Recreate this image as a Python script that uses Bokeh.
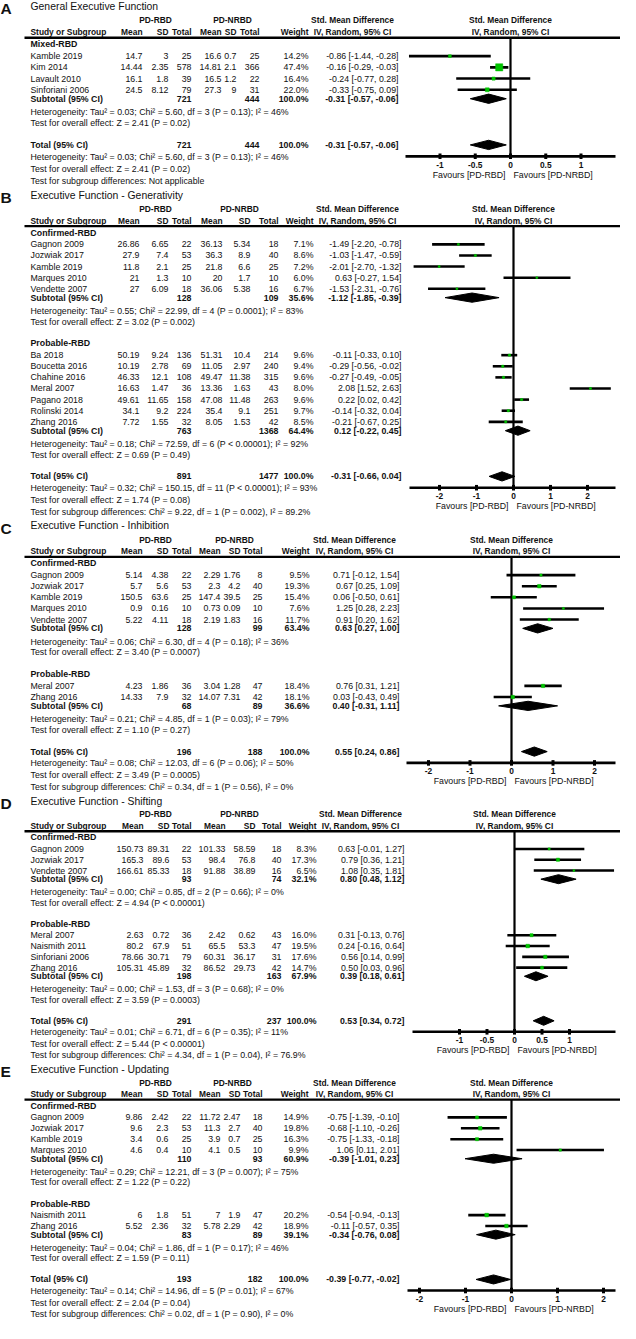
from bokeh.plotting import figure
from bokeh.models import Range1d, ColumnDataSource
from bokeh.core.properties import value
from bokeh.embed import file_html
from bokeh.resources import INLINE

# ------------------------------------------------------------------ DATA
PANEL_LETTERS = ["A", "B", "C", "D", "E"]
PANEL_TITLES = ["General Executive Function", "Executive Function - Generativity",
                "Executive Function - Inhibition", "Executive Function - Shifting",
                "Executive Function - Updating"]

# Panel A
A_GROUPS = ["Mixed-RBD"]
A_STUDY = ["Kamble 2019", "Kim 2014", "Lavault 2010", "Sinforiani 2006"]
A_GRP = [0, 0, 0, 0]
A_M1 = [14.7, 14.44, 16.1, 24.5]
A_SD1 = [3, 2.35, 1.8, 8.12]
A_N1 = [25, 578, 39, 79]
A_M2 = [16.6, 14.81, 16.5, 27.3]
A_SD2 = [0.7, 2.1, 1.2, 9]
A_N2 = [25, 366, 22, 31]
A_W = [14.2, 47.4, 16.4, 22.0]
A_SMD = [-0.86, -0.16, -0.24, -0.33]
A_LO = [-1.44, -0.29, -0.77, -0.75]
A_HI = [-0.28, -0.03, 0.28, 0.09]
A_SUB_N1 = [721]
A_SUB_N2 = [444]
A_SUB_W = [100.0]
A_SUB_SMD = [-0.31]
A_SUB_LO = [-0.57]
A_SUB_HI = [-0.06]
A_SUB_HET = ["Heterogeneity: Tau² = 0.03; Chi² = 5.60, df = 3 (P = 0.13); I² = 46%"]
A_SUB_Z = ["Test for overall effect: Z = 2.41 (P = 0.02)"]
A_TOTAL = [721, 444, 100.0, -0.31, -0.57, -0.06]
A_TOT_HET = "Heterogeneity: Tau² = 0.03; Chi² = 5.60, df = 3 (P = 0.13); I² = 46%"
A_TOT_Z = "Test for overall effect: Z = 2.41 (P = 0.02)"
A_SUBDIFF = "Test for subgroup differences: Not applicable"
A_TICKS = [-1, -0.5, 0, 0.5, 1]

# Panel B
B_GROUPS = ["Confirmed-RBD", "Probable-RBD"]
B_STUDY = ["Gagnon 2009", "Jozwiak 2017", "Kamble 2019", "Marques 2010", "Vendette 2007",
           "Ba 2018", "Boucetta 2016", "Chahine 2016", "Meral 2007", "Pagano 2018",
           "Rolinski 2014", "Zhang 2016"]
B_GRP = [0, 0, 0, 0, 0, 1, 1, 1, 1, 1, 1, 1]
B_M1 = [26.86, 27.9, 11.8, 21, 27, 50.19, 10.19, 46.33, 16.63, 49.61, 34.1, 7.72]
B_SD1 = [6.65, 7.4, 2.1, 1.3, 6.09, 9.24, 2.78, 12.1, 1.47, 11.65, 9.2, 1.55]
B_N1 = [22, 53, 25, 10, 18, 136, 69, 108, 36, 158, 224, 32]
B_M2 = [36.13, 36.3, 21.8, 20, 36.06, 51.31, 11.05, 49.47, 13.36, 47.08, 35.4, 8.05]
B_SD2 = [5.34, 8.9, 6.6, 1.7, 5.38, 10.4, 2.97, 11.38, 1.63, 11.48, 9.1, 1.53]
B_N2 = [18, 40, 25, 10, 16, 214, 240, 315, 43, 263, 251, 42]
B_W = [7.1, 8.6, 7.2, 6.0, 6.7, 9.6, 9.4, 9.6, 8.0, 9.6, 9.7, 8.5]
B_SMD = [-1.49, -1.03, -2.01, 0.63, -1.53, -0.11, -0.29, -0.27, 2.08, 0.22, -0.14, -0.21]
B_LO = [-2.20, -1.47, -2.70, -0.27, -2.31, -0.33, -0.56, -0.49, 1.52, 0.02, -0.32, -0.67]
B_HI = [-0.78, -0.59, -1.32, 1.54, -0.76, 0.10, -0.02, -0.05, 2.63, 0.42, 0.04, 0.25]
B_SUB_N1 = [128, 763]
B_SUB_N2 = [109, 1368]
B_SUB_W = [35.6, 64.4]
B_SUB_SMD = [-1.12, 0.12]
B_SUB_LO = [-1.85, -0.22]
B_SUB_HI = [-0.39, 0.45]
B_SUB_HET = ["Heterogeneity: Tau² = 0.55; Chi² = 22.99, df = 4 (P = 0.0001); I² = 83%",
             "Heterogeneity: Tau² = 0.18; Chi² = 72.59, df = 6 (P < 0.00001); I² = 92%"]
B_SUB_Z = ["Test for overall effect: Z = 3.02 (P = 0.002)",
           "Test for overall effect: Z = 0.69 (P = 0.49)"]
B_TOTAL = [891, 1477, 100.0, -0.31, -0.66, 0.04]
B_TOT_HET = "Heterogeneity: Tau² = 0.32; Chi² = 150.15, df = 11 (P < 0.00001); I² = 93%"
B_TOT_Z = "Test for overall effect: Z = 1.74 (P = 0.08)"
B_SUBDIFF = "Test for subgroup differences: Chi² = 9.22, df = 1 (P = 0.002), I² = 89.2%"
B_TICKS = [-2, -1, 0, 1, 2]

# Panel C
C_GROUPS = ["Confirmed-RBD", "Probable-RBD"]
C_STUDY = ["Gagnon 2009", "Jozwiak 2017", "Kamble 2019", "Marques 2010", "Vendette 2007",
           "Meral 2007", "Zhang 2016"]
C_GRP = [0, 0, 0, 0, 0, 1, 1]
C_M1 = [5.14, 5.7, 150.5, 0.9, 5.22, 4.23, 14.33]
C_SD1 = [4.38, 5.6, 63.6, 0.16, 4.11, 1.86, 7.9]
C_N1 = [22, 53, 25, 10, 18, 36, 32]
C_M2 = [2.29, 2.3, 147.4, 0.73, 2.19, 3.04, 14.07]
C_SD2 = [1.76, 4.2, 39.5, 0.09, 1.83, 1.28, 7.31]
C_N2 = [8, 40, 25, 10, 16, 47, 42]
C_W = [9.5, 19.3, 15.4, 7.6, 11.7, 18.4, 18.1]
C_SMD = [0.71, 0.67, 0.06, 1.25, 0.91, 0.76, 0.03]
C_LO = [-0.12, 0.25, -0.50, 0.28, 0.20, 0.31, -0.43]
C_HI = [1.54, 1.09, 0.61, 2.23, 1.62, 1.21, 0.49]
C_SUB_N1 = [128, 68]
C_SUB_N2 = [99, 89]
C_SUB_W = [63.4, 36.6]
C_SUB_SMD = [0.63, 0.40]
C_SUB_LO = [0.27, -0.31]
C_SUB_HI = [1.00, 1.11]
C_SUB_HET = ["Heterogeneity: Tau² = 0.06; Chi² = 6.30, df = 4 (P = 0.18); I² = 36%",
             "Heterogeneity: Tau² = 0.21; Chi² = 4.85, df = 1 (P = 0.03); I² = 79%"]
C_SUB_Z = ["Test for overall effect: Z = 3.40 (P = 0.0007)",
           "Test for overall effect: Z = 1.10 (P = 0.27)"]
C_TOTAL = [196, 188, 100.0, 0.55, 0.24, 0.86]
C_TOT_HET = "Heterogeneity: Tau² = 0.08; Chi² = 12.03, df = 6 (P = 0.06); I² = 50%"
C_TOT_Z = "Test for overall effect: Z = 3.49 (P = 0.0005)"
C_SUBDIFF = "Test for subgroup differences: Chi² = 0.34, df = 1 (P = 0.56), I² = 0%"
C_TICKS = [-2, -1, 0, 1, 2]

# Panel D
D_GROUPS = ["Confirmed-RBD", "Probable-RBD"]
D_STUDY = ["Gagnon 2009", "Jozwiak 2017", "Vendette 2007", "Meral 2007", "Naismith 2011",
           "Sinforiani 2006", "Zhang 2016"]
D_GRP = [0, 0, 0, 1, 1, 1, 1]
D_M1 = [150.73, 165.3, 166.61, 2.63, 80.2, 78.66, 105.31]
D_SD1 = [89.31, 89.6, 85.33, 0.72, 67.9, 30.71, 45.89]
D_N1 = [22, 53, 18, 36, 51, 79, 32]
D_M2 = [101.33, 98.4, 91.88, 2.42, 65.5, 60.31, 86.52]
D_SD2 = [58.59, 76.8, 38.89, 0.62, 53.3, 36.17, 29.73]
D_N2 = [18, 40, 16, 43, 47, 31, 42]
D_W = [8.3, 17.3, 6.5, 16.0, 19.5, 17.6, 14.7]
D_SMD = [0.63, 0.79, 1.08, 0.31, 0.24, 0.56, 0.50]
D_LO = [-0.01, 0.36, 0.35, -0.13, -0.16, 0.14, 0.03]
D_HI = [1.27, 1.21, 1.81, 0.76, 0.64, 0.99, 0.96]
D_SUB_N1 = [93, 198]
D_SUB_N2 = [74, 163]
D_SUB_W = [32.1, 67.9]
D_SUB_SMD = [0.80, 0.39]
D_SUB_LO = [0.48, 0.18]
D_SUB_HI = [1.12, 0.61]
D_SUB_HET = ["Heterogeneity: Tau² = 0.00; Chi² = 0.85, df = 2 (P = 0.66); I² = 0%",
             "Heterogeneity: Tau² = 0.00; Chi² = 1.53, df = 3 (P = 0.68); I² = 0%"]
D_SUB_Z = ["Test for overall effect: Z = 4.94 (P < 0.00001)",
           "Test for overall effect: Z = 3.59 (P = 0.0003)"]
D_TOTAL = [291, 237, 100.0, 0.53, 0.34, 0.72]
D_TOT_HET = "Heterogeneity: Tau² = 0.01; Chi² = 6.71, df = 6 (P = 0.35); I² = 11%"
D_TOT_Z = "Test for overall effect: Z = 5.44 (P < 0.00001)"
D_SUBDIFF = "Test for subgroup differences: Chi² = 4.34, df = 1 (P = 0.04), I² = 76.9%"
D_TICKS = [-1, -0.5, 0, 0.5, 1]

# Panel E
E_GROUPS = ["Confirmed-RBD", "Probable-RBD"]
E_STUDY = ["Gagnon 2009", "Jozwiak 2017", "Kamble 2019", "Marques 2010", "Naismith 2011",
           "Zhang 2016"]
E_GRP = [0, 0, 0, 0, 1, 1]
E_M1 = [9.86, 9.6, 3.4, 4.6, 6, 5.52]
E_SD1 = [2.42, 2.3, 0.6, 0.4, 1.8, 2.36]
E_N1 = [22, 53, 25, 10, 51, 32]
E_M2 = [11.72, 11.3, 3.9, 4.1, 7, 5.78]
E_SD2 = [2.47, 2.7, 0.7, 0.5, 1.9, 2.29]
E_N2 = [18, 40, 25, 10, 47, 42]
E_W = [14.9, 19.8, 16.3, 9.9, 20.2, 18.9]
E_SMD = [-0.75, -0.68, -0.75, 1.06, -0.54, -0.11]
E_LO = [-1.39, -1.10, -1.33, 0.11, -0.94, -0.57]
E_HI = [-0.10, -0.26, -0.18, 2.01, -0.13, 0.35]
E_SUB_N1 = [110, 83]
E_SUB_N2 = [93, 89]
E_SUB_W = [60.9, 39.1]
E_SUB_SMD = [-0.39, -0.34]
E_SUB_LO = [-1.01, -0.76]
E_SUB_HI = [0.23, 0.08]
E_SUB_HET = ["Heterogeneity: Tau² = 0.29; Chi² = 12.21, df = 3 (P = 0.007); I² = 75%",
             "Heterogeneity: Tau² = 0.04; Chi² = 1.86, df = 1 (P = 0.17); I² = 46%"]
E_SUB_Z = ["Test for overall effect: Z = 1.22 (P = 0.22)",
           "Test for overall effect: Z = 1.59 (P = 0.11)"]
E_TOTAL = [193, 182, 100.0, -0.39, -0.77, -0.02]
E_TOT_HET = "Heterogeneity: Tau² = 0.14; Chi² = 14.96, df = 5 (P = 0.01); I² = 67%"
E_TOT_Z = "Test for overall effect: Z = 2.04 (P = 0.04)"
E_SUBDIFF = "Test for subgroup differences: Chi² = 0.02, df = 1 (P = 0.90), I² = 0%"
E_TICKS = [-2, -1, 0, 1, 2]

HEAD_COLS = ["Mean", "SD", "Total", "Mean", "SD", "Total", "Weight"]

# ------------------------------------------------------------------ assemble panels
def panel(prefix):
    g = globals()
    return {k: g[prefix + "_" + k] for k in
            ["GROUPS", "STUDY", "GRP", "M1", "SD1", "N1", "M2", "SD2", "N2", "W", "SMD", "LO", "HI",
             "SUB_N1", "SUB_N2", "SUB_W", "SUB_SMD", "SUB_LO", "SUB_HI", "SUB_HET", "SUB_Z",
             "TOTAL", "TOT_HET", "TOT_Z", "SUBDIFF", "TICKS"]}

PANELS = [panel(k) for k in PANEL_LETTERS]

# ------------------------------------------------------------------ layout / style
W_PX, H_PX = 620, 1323
X0 = 8
Y_TOP, Y_BOT = 1, 1333
LAYOUT = [
    dict(y0=7, s=1.0, cols=(150, 176, 199, 229, 244, 267, 316), pd=(163, 240), smd_c=360, smd_r=406, zero=518, ppu=70.5, ax=(413, 623)),
    dict(y0=197, s=0.99, cols=(147, 176, 199, 230, 258, 286, 321), pd=(163, 247), smd_c=365, smd_r=409, zero=521, ppu=37.0, ax=(417, 623)),
    dict(y0=530, s=0.99, cols=(150, 176, 199, 228, 248, 270, 317), pd=(163, 242), smd_c=362, smd_r=407, zero=519, ppu=41.5, ax=(414, 623)),
    dict(y0=807, s=0.964, cols=(151, 177, 199, 233, 263, 289, 324), pd=(163, 247), smd_c=368, smd_r=412, zero=522, ppu=55.0, ax=(420, 623)),
    dict(y0=1077, s=0.97, cols=(150, 176, 199, 228, 248, 270, 316), pd=(163, 240), smd_c=362, smd_r=407, zero=519, ppu=46.0, ax=(415, 623)),
]
FONT = "Liberation Sans"
FS = "8.8px"
FH = "8.4px"
TXT = "#111111"
GREEN = "#00c400"
LEFT = 38

p = figure(width=W_PX, height=H_PX, x_range=Range1d(X0, X0 + W_PX), y_range=Range1d(Y_BOT, Y_TOP),
           output_backend="svg", toolbar_location=None, min_border=0)
p.axis.visible = False
p.grid.visible = False
p.outline_line_color = None
p.background_fill_color = "white"
p.border_fill_color = "white"

for i, L in enumerate(LAYOUT):
    p.extra_x_ranges["P%d" % i] = Range1d((X0 - L["zero"]) / L["ppu"], (X0 + W_PX - L["zero"]) / L["ppu"])

texts = {}


def T(x, y, s, align="left", bold=False, size=FS, rng="default", dx=0):
    key = (rng, align, bold, size, dx)
    d = texts.setdefault(key, dict(x=[], y=[], t=[]))
    d["x"].append(x)
    d["y"].append(y)
    d["t"].append(s)


def fmt(v):
    return f"{v:g}"


def ci(s, lo, hi):
    return f"{s:.2f} [{lo:.2f}, {hi:.2f}]"


segs = {}
pix_segs = dict(x0=[], y0=[], x1=[], y1=[], w=[])
squares = {}
diamonds = {}

for i, (P, L) in enumerate(zip(PANELS, LAYOUT)):
    rng = "P%d" % i
    s = L["s"]
    y0 = L["y0"]
    c = L["cols"]
    seg = segs.setdefault(rng, dict(x0=[], y0=[], x1=[], y1=[], w=[]))
    sq = squares.setdefault(rng, dict(x=[], y=[], size=[]))
    dm = diamonds.setdefault(rng, dict(xs=[], ys=[]))

    T(8, y0 + 2.5, PANEL_LETTERS[i], bold=True, size="15.5px")
    T(LEFT, y0, PANEL_TITLES[i], size="10.4px")
    yp = y0 + 14 * s
    T(L["pd"][0], yp, "PD-RBD", "center", True, FH)
    T(L["pd"][1], yp, "PD-NRBD", "center", True, FH)
    T(L["smd_c"], yp, "Std. Mean Difference", "center", True, FH)
    T(L["zero"], yp, "Std. Mean Difference", "center", True, FH)
    yh = y0 + 26 * s
    T(LEFT, yh, "Study or Subgroup", bold=True, size=FH)
    for cx, h in zip(c, HEAD_COLS):
        T(cx, yh, h, "right", True, FH)
    T(L["smd_c"], yh, "IV, Random, 95% CI", "center", True, FH)
    T(L["zero"], yh, "IV, Random, 95% CI", "center", True, FH)
    yl = y0 + 31.5 * s
    pix_segs["x0"].append(32); pix_segs["x1"].append(630)
    pix_segs["y0"].append(yl); pix_segs["y1"].append(yl); pix_segs["w"].append(2.4)

    y = y0 + 38 * s
    for g, gname in enumerate(P["GROUPS"]):
        T(LEFT, y, gname, bold=True)
        idx = [k for k, gg in enumerate(P["GRP"]) if gg == g]
        ys = y + 12 * s
        for n, k in enumerate(idx):
            yy = ys + 11.3 * s * n
            T(LEFT, yy, P["STUDY"][k])
            for cx, v in zip(c, [P["M1"][k], P["SD1"][k], P["N1"][k], P["M2"][k], P["SD2"][k], P["N2"][k]]):
                T(cx, yy, fmt(v), "right")
            T(c[6], yy, f"{P['W'][k]:.1f}%", "right")
            T(L["smd_r"], yy, ci(P["SMD"][k], P["LO"][k], P["HI"][k]), "right")
            seg["x0"].append(P["LO"][k]); seg["x1"].append(P["HI"][k])
            seg["y0"].append(yy); seg["y1"].append(yy); seg["w"].append(2.6)
            sq["x"].append(P["SMD"][k]); sq["y"].append(yy); sq["size"].append(1.0 + 0.13 * P["W"][k])
            last = yy
        ysub = last + 9 * s
        T(LEFT, ysub, "Subtotal (95% CI)", bold=True)
        T(c[2], ysub, str(P["SUB_N1"][g]), "right", True)
        T(c[5], ysub, str(P["SUB_N2"][g]), "right", True)
        T(c[6], ysub, f"{P['SUB_W'][g]:.1f}%", "right", True)
        T(L["smd_r"], ysub, ci(P["SUB_SMD"][g], P["SUB_LO"][g], P["SUB_HI"][g]), "right", True)
        hh = 4.7 * s
        dm["xs"].append([P["SUB_LO"][g], P["SUB_SMD"][g], P["SUB_HI"][g], P["SUB_SMD"][g]])
        dm["ys"].append([ysub, ysub - hh, ysub, ysub + hh])
        yhet = ysub + 13.5 * s
        T(LEFT, yhet, P["SUB_HET"][g])
        yz = yhet + 11 * s
        T(LEFT, yz, P["SUB_Z"][g])
        y = yz + 22 * s

    ytot = y
    n1, n2, wt, sm, lo, hi = P["TOTAL"]
    T(LEFT, ytot, "Total (95% CI)", bold=True)
    T(c[2], ytot, str(n1), "right", True)
    T(c[5], ytot, str(n2), "right", True)
    T(c[6], ytot, f"{wt:.1f}%", "right", True)
    T(L["smd_r"], ytot, ci(sm, lo, hi), "right", True)
    hh = 4.7 * s
    dm["xs"].append([lo, sm, hi, sm])
    dm["ys"].append([ytot, ytot - hh, ytot, ytot + hh])
    yh2 = ytot + 12 * s
    T(LEFT, yh2, P["TOT_HET"])
    yz2 = yh2 + 12 * s
    T(LEFT, yz2, P["TOT_Z"])
    T(LEFT, yz2 + 12 * s, P["SUBDIFF"])

    # forest axis
    yax = ytot + 11.5 * s
    pix_segs["x0"].append(L["ax"][0]); pix_segs["x1"].append(L["ax"][1])
    pix_segs["y0"].append(yax); pix_segs["y1"].append(yax); pix_segs["w"].append(2.6)
    # zero line
    seg["x0"].append(0); seg["x1"].append(0)
    seg["y0"].append(yl); seg["y1"].append(yax); seg["w"].append(2.2)
    for t in P["TICKS"]:
        seg["x0"].append(t); seg["x1"].append(t)
        seg["y0"].append(yax - 2.8); seg["y1"].append(yax + 2.8); seg["w"].append(3)
        T(t, yax + 8.5, fmt(t), "center", True, FH, rng)
    T(0, yax + 18.5, "Favours [PD-RBD]", "right", False, FS, rng, -5)
    T(0, yax + 18.5, "Favours [PD-NRBD]", "left", False, FS, rng, 3)

# ------------------------------------------------------------------ render
p.segment(x0="x0", y0="y0", x1="x1", y1="y1", line_width="w", line_color="black",
          source=ColumnDataSource(pix_segs))
for rng, d in segs.items():
    p.segment(x0="x0", y0="y0", x1="x1", y1="y1", line_width="w", line_color="black",
              source=ColumnDataSource(d), x_range_name=rng)
for rng, d in diamonds.items():
    p.patches(xs="xs", ys="ys", fill_color="black", line_color="black", line_width=1,
              source=ColumnDataSource(d), x_range_name=rng)
for rng, d in squares.items():
    p.scatter(x="x", y="y", size="size", marker="square", fill_color=GREEN, line_color=GREEN,
              line_width=0.5, source=ColumnDataSource(d), x_range_name=rng)

for (rng, align, bold, size, dx), d in texts.items():
    p.text(x="x", y="y", text="t", source=ColumnDataSource(d), x_range_name=rng,
           text_align=align, text_baseline="middle", text_font=value(FONT),
           text_font_style="bold" if bold else "normal", text_font_size=size,
           text_color=TXT, x_offset=dx)

open("out.html", "w").write(file_html(p, INLINE))
